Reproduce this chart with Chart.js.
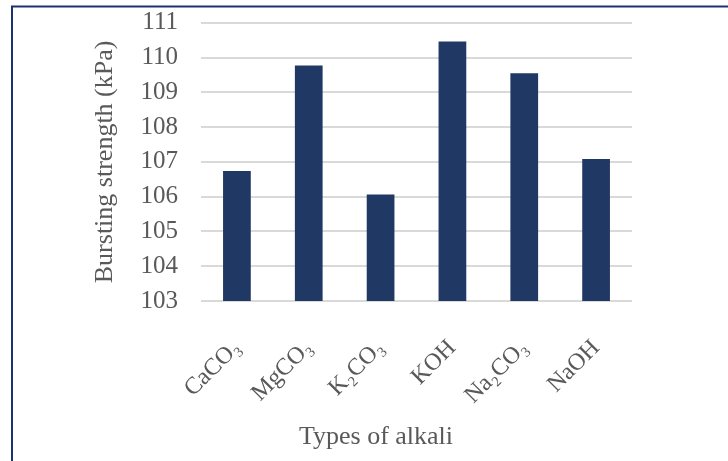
<!DOCTYPE html>
<html>
<head>
<meta charset="utf-8">
<script src="https://cdn.jsdelivr.net/npm/chart.js@4/dist/chart.umd.min.js"></script>
<style>
  html, body { margin: 0; padding: 0; background: #ffffff; }
  #wrap { position: relative; width: 728px; height: 461px; }
</style>
</head>
<body>
<div id="wrap"><canvas id="c" width="728" height="461"></canvas></div>
<script>
const categories = ['CaCO\u2083', 'MgCO\u2083', 'K\u2082CO\u2083', 'KOH', 'Na\u2082CO\u2083', 'NaOH'];
const burstingStrength = [106.74, 109.77, 106.06, 110.46, 109.55, 107.08];
const yTicks = [103, 104, 105, 106, 107, 108, 109, 110, 111];

const FONT = "'Liberation Serif', 'Times New Roman', serif";
const TEXT = '#595959';

const frame = {
  id: 'frame',
  beforeDraw(chart) {
    const ctx = chart.ctx;
    ctx.save();
    ctx.fillStyle = '#ffffff';
    ctx.fillRect(0, 0, chart.width, chart.height);
    ctx.strokeStyle = '#1c3172';
    ctx.lineWidth = 2;
    ctx.beginPath();
    ctx.moveTo(12, chart.height);
    ctx.lineTo(12, 6.5);
    ctx.lineTo(chart.width, 6.5);
    ctx.stroke();
    ctx.restore();
  }
};

new Chart(document.getElementById('c'), {
  type: 'bar',
  data: {
    labels: categories,
    datasets: [{
      data: burstingStrength,
      backgroundColor: '#203864',
      borderWidth: 0,
      categoryPercentage: 1,
      barPercentage: 0.386
    }]
  },
  options: {
    responsive: false,
    animation: false,
    devicePixelRatio: 1,
    layout: { padding: { left: 24, right: 0, top: 22.7, bottom: 0 } },
    plugins: {
      legend: { display: false },
      tooltip: { enabled: false },
      title: {
        display: true,
        position: 'bottom',
        text: 'Types of alkali',
        color: TEXT,
        font: { family: FONT, size: 26, weight: 'normal' },
        padding: { top: 0, bottom: 8 }
      }
    },
    scales: {
      x: {
        grid: { display: false },
        border: { display: false },
        ticks: {
          color: TEXT,
          font: { family: FONT, size: 24 },
          minRotation: 45,
          maxRotation: 45,
          padding: 25
        },
        afterFit(s) { s.height = 120.7; }
      },
      y: {
        min: 103,
        max: 111,
        afterBuildTicks(s) { s.ticks = yTicks.map(v => ({ value: v })); },
        grid: { color: '#d9d9d9', lineWidth: 2, drawTicks: true, tickLength: 23, tickColor: 'rgba(0,0,0,0)' },
        border: { display: false },
        ticks: {
          color: TEXT,
          font: { family: FONT, size: 25 },
          padding: 0,
          autoSkip: false
        },
        title: {
          display: true,
          text: 'Bursting strength (kPa)',
          color: TEXT,
          font: { family: FONT, size: 26 },
          padding: { top: 66, bottom: 0 }
        },
        afterFit(s) { s.width = 177; }
      },
      y2: {
        position: 'right',
        display: true,
        grid: { display: false, drawTicks: false },
        border: { display: false },
        ticks: { display: false },
        afterFit(s) { s.width = 96; }
      }
    }
  },
  plugins: [frame]
});
</script>
</body>
</html>
